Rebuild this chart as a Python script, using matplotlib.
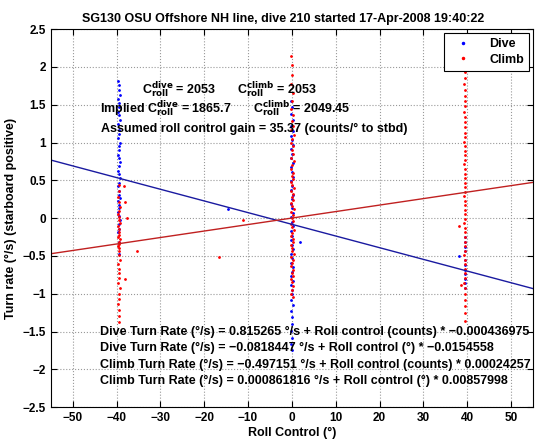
import numpy as np
import matplotlib
matplotlib.use("Agg")
import matplotlib.pyplot as plt

plt.rcParams['font.family'] = ['Liberation Sans', 'DejaVu Sans']
plt.rcParams['font.weight'] = 'bold'
plt.rcParams['mathtext.default'] = 'bf'

# --- data ---
dive_m40_y = [1.81, 1.76, 1.69, 1.63, 1.58, 1.52, 1.47, 1.41, 1.36, 1.30, 1.24, 1.17,
              1.11, 1.06, 1.00, 0.95, 0.90, 0.84, 0.79, 0.74, 0.69, 0.63, 0.58, 0.53,
              0.47, 0.42, 0.36, 0.31, 0.27, 0.22, 0.17, 0.13, 0.08, 0.03, -0.03, -0.08,
              -0.14, -0.19, -0.31, -0.47]
dive_m40_x = [-39.6, -39.4, -39.5, -39.3, -39.6, -39.5, -39.4, -39.7, -39.5, -39.3, -39.6, -39.4,
              -39.5, -39.6, -39.3, -39.5, -39.4, -39.6, -39.5, -39.2, -39.4, -39.6, -39.5, -39.3,
              -39.5, -39.6, -39.4, -39.5, -39.3, -39.6, -39.5, -39.4, -39.6, -39.5, -39.3, -39.5,
              -39.4, -39.6, -39.5, -39.4]

climb_m40_y = [0.44, 0.36, 0.28, 0.21, 0.15, 0.10, 0.05, 0.01, -0.03, -0.07, -0.11, -0.15,
               -0.19, -0.22, -0.25, -0.28, -0.31, -0.34, -0.37, -0.40, -0.44, -0.49, -0.55,
               -0.61, -0.67, -0.73, -0.79, -0.86, -0.93, -1.00, -1.07, -1.14, -1.21, -1.29,
               -1.38, 0.21, 0.00, -0.81, 0.43, -0.44]
climb_m40_x = [-39.5, -39.4, -39.6, -39.5, -39.3, -39.5, -39.6, -39.4, -39.5, -39.3, -39.6, -39.5,
               -39.4, -39.5, -39.6, -39.3, -39.5, -39.4, -39.6, -39.5, -39.4, -39.5, -39.3,
               -39.6, -39.5, -39.4, -39.5, -39.6, -39.3, -39.5, -39.4, -39.6, -39.5, -39.4,
               -39.5, -38.1, -37.7, -38.1, -38.4, -35.3]

dive_0_y = [1.55, 1.47, 1.38, 1.30, 1.22, 1.15, 1.09, 1.03, 0.97, 0.91, 0.85, 0.79,
            0.73, 0.67, 0.61, 0.55, 0.49, 0.43, 0.37, 0.31, 0.25, 0.19, 0.13, 0.07,
            0.01, -0.05, -0.11, -0.17, -0.23, -0.29, -0.35, -0.41, -0.47, -0.53, -0.59,
            -0.65, -0.71, -0.77, -0.83, -0.89, -0.95, -1.01, -1.08, -1.15, -1.23, -1.31,
            -1.40, -1.49, -1.58, -1.66, -1.74, 0.12, -0.31]
dive_0_x = [-0.3, 0.1, -0.2, 0.2, -0.1, 0.3, -0.2, 0.0, 0.2, -0.3, 0.1, -0.1,
            0.2, -0.2, 0.0, 0.3, -0.1, 0.1, -0.3, 0.2, 0.0, -0.2, 0.1, 0.3,
            -0.1, 0.0, 0.2, -0.2, 0.1, -0.3, 0.0, 0.2, -0.1, 0.1, -0.2,
            0.3, 0.0, -0.1, 0.2, -0.2, 0.1, 0.0, -0.3, 0.2, -0.1, 0.1,
            0.0, -0.2, 0.1, -0.1, 0.0, -14.6, 1.8]

climb_0_y = [2.14, 2.02, 1.90, 1.78, 1.66, 1.55, 1.45, 1.36, 1.28, 1.22, 1.16, 1.10,
             1.05, 1.00, 0.95, 0.90, 0.85, 0.80, 0.75, 0.70, 0.65, 0.60, 0.56, 0.52,
             0.48, 0.44, 0.40, 0.36, 0.32, 0.28, 0.24, 0.20, 0.16, 0.12, 0.08, 0.04,
             0.00, -0.04, -0.08, -0.12, -0.16, -0.20, -0.24, -0.28, -0.32, -0.36, -0.40,
             -0.44, -0.48, -0.52, -0.56, -0.60, -0.64, -0.68, -0.72, -0.76, -0.80, -0.85,
             -0.90, -0.95, -1.00, -1.05, -0.02, -0.51]
climb_0_x = [-0.1, 0.1, 0.0, -0.2, 0.2, 0.1, -0.1, 0.3, 0.0, 0.2, -0.2, 0.4,
             0.1, -0.1, 0.3, 0.0, 0.2, -0.2, 0.4, 0.1, -0.1, 0.3, 0.0, 0.2,
             -0.2, 0.1, 0.4, -0.1, 0.2, 0.0, 0.3, -0.2, 0.1, 0.4, -0.1, 0.2,
             0.0, 0.3, -0.2, 0.1, 0.4, 0.0, -0.1, 0.2, 0.3, -0.2, 0.1,
             0.0, 0.4, -0.1, 0.2, 0.1, -0.2, 0.3, 0.0, 0.2, -0.1, 0.1,
             0.3, 0.0, -0.1, 0.2, -11.2, -16.6]

climb_p40_y = [1.98, 1.93, 1.85, 1.77, 1.70, 1.62, 1.55, 1.48, 1.41, 1.34, 1.27, 1.20,
               1.13, 1.07, 1.01, 0.95, 0.89, 0.83, 0.77, 0.71, 0.65, 0.59, 0.53, 0.47,
               0.41, 0.35, 0.29, 0.23, 0.17, 0.11, 0.05, -0.01, -0.07, -0.13, -0.19,
               -0.25, -0.31, -0.37, -0.43, -0.49, -0.55, -0.61, -0.67, -0.73, -0.79,
               -0.86, -0.93, -1.00, -1.08, -1.16, -1.25, -1.36, -0.10, -0.89]
climb_p40_x = [39.4, 39.6, 39.5, 39.3, 39.5, 39.6, 39.4, 39.5, 39.3, 39.6, 39.5, 39.4,
               39.5, 39.6, 39.3, 39.5, 39.4, 39.6, 39.5, 39.3, 39.5, 39.4, 39.6, 39.5,
               39.4, 39.5, 39.3, 39.6, 39.5, 39.4, 39.5, 39.6, 39.3, 39.5, 39.4,
               39.6, 39.5, 39.4, 39.5, 39.3, 39.6, 39.5, 39.4, 39.5, 39.6,
               39.3, 39.5, 39.4, 39.6, 39.5, 39.4, 39.5, 38.1, 38.6]

dive_p40_y = [-0.25, -0.31, -0.38, -0.44, -0.50, -0.56, -0.62, -0.68, -0.74, -0.80, -0.86, -0.92]
dive_p40_x = [39.5, 39.4, 39.6, 39.5, 38.1, 39.4, 39.6, 39.5, 39.4, 39.5, 39.6, 39.4]

# linear fits (turn rate vs roll control in degrees)
dive_fit = (-0.0818447, -0.0154558)
climb_fit = (0.000861816, 0.00857998)
fit_x = np.array([-55, 55])

dive_x = dive_m40_x + dive_0_x + dive_p40_x
dive_y = dive_m40_y + dive_0_y + dive_p40_y
climb_x = climb_m40_x + climb_0_x + climb_p40_x
climb_y = climb_m40_y + climb_0_y + climb_p40_y

fig = plt.figure(figsize=(5.41, 4.42), dpi=100)
ax = fig.add_axes([0.094, 0.079, 0.891, 0.855])

ax.plot(dive_x, dive_y, '.', color='#0000ff', markersize=2, label='Dive')
ax.plot(climb_x, climb_y, '.', color='#ff0000', markersize=2, label='Climb')
ax.plot(fit_x, dive_fit[0] + dive_fit[1] * fit_x, '-', color='#1a1aa0', linewidth=1)
ax.plot(fit_x, climb_fit[0] + climb_fit[1] * fit_x, '-', color='#c02020', linewidth=1)

ax.set_xlim(-55, 55)
ax.set_ylim(-2.5, 2.5)
ax.set_xticks(np.arange(-50, 51, 10))
ax.set_yticks(np.arange(-2.5, 2.51, 0.5))
ax.set_yticklabels(['\u22122.5', '\u22122', '\u22121.5', '\u22121', '\u22120.5', '0',
                    '0.5', '1', '1.5', '2', '2.5'])
ax.grid(True, linestyle=':', color='#999999', linewidth=0.8)
ax.tick_params(direction='in', top=True, right=True, labelsize=8.5, length=4, width=0.8)
for lab in ax.get_xticklabels() + ax.get_yticklabels():
    lab.set_fontweight('bold')
for s in ax.spines.values():
    s.set_linewidth(0.8)

ax.set_title('SG130 OSU Offshore NH line, dive 210 started 17-Apr-2008 19:40:22',
             fontsize=9, fontweight='bold', pad=5, x=0.481)
ax.set_xlabel('Roll Control (\u00b0)', fontsize=9, fontweight='bold', labelpad=2)
ax.set_ylabel('Turn rate (\u00b0/s) (starboard positive)', fontsize=9, fontweight='bold', labelpad=4)

fs = 9
ax.text(-34.2, 1.70, r'C$_{\rm roll}^{\rm dive}$ = 2053', fontsize=fs, va='center')
ax.text(-12.6, 1.70, r'C$_{\rm roll}^{\rm climb}$ = 2053', fontsize=fs, va='center')
ax.text(-43.8, 1.45, r'Implied C$_{\rm roll}^{\rm dive}$ = 1865.7', fontsize=fs, va='center')
ax.text(-8.9, 1.45, r'C$_{\rm roll}^{\rm climb}$ = 2049.45', fontsize=fs, va='center')
ax.text(-43.6, 1.18, 'Assumed roll control gain = 35.37 (counts/\u00b0 to stbd)',
        fontsize=fs, va='center')

eq_lines = [
    'Dive Turn Rate (\u00b0/s) = 0.815265 \u00b0/s + Roll control (counts) * \u22120.000436975',
    'Dive Turn Rate (\u00b0/s) = \u22120.0818447 \u00b0/s + Roll control (\u00b0) * \u22120.0154558',
    'Climb Turn Rate (\u00b0/s) = \u22120.497151 \u00b0/s + Roll control (counts) * 0.00024257',
    'Climb Turn Rate (\u00b0/s) = 0.000861816 \u00b0/s + Roll control (\u00b0) * 0.00857998',
]
eq_y = [-1.50, -1.72, -1.94, -2.16]
for t, yy in zip(eq_lines, eq_y):
    ax.text(-43.7, yy, t, fontsize=fs, va='center', clip_on=True)

leg = ax.legend(loc='upper right', fontsize=9, markerscale=1.5, handlelength=2.2,
                handletextpad=1.0, labelspacing=0.3, borderpad=0.4,
                fancybox=False, edgecolor='black', framealpha=1, borderaxespad=0.3)
leg.get_frame().set_linewidth(0.8)
for t in leg.get_texts():
    t.set_fontweight('bold')

fig.savefig('out.png', dpi=100)
